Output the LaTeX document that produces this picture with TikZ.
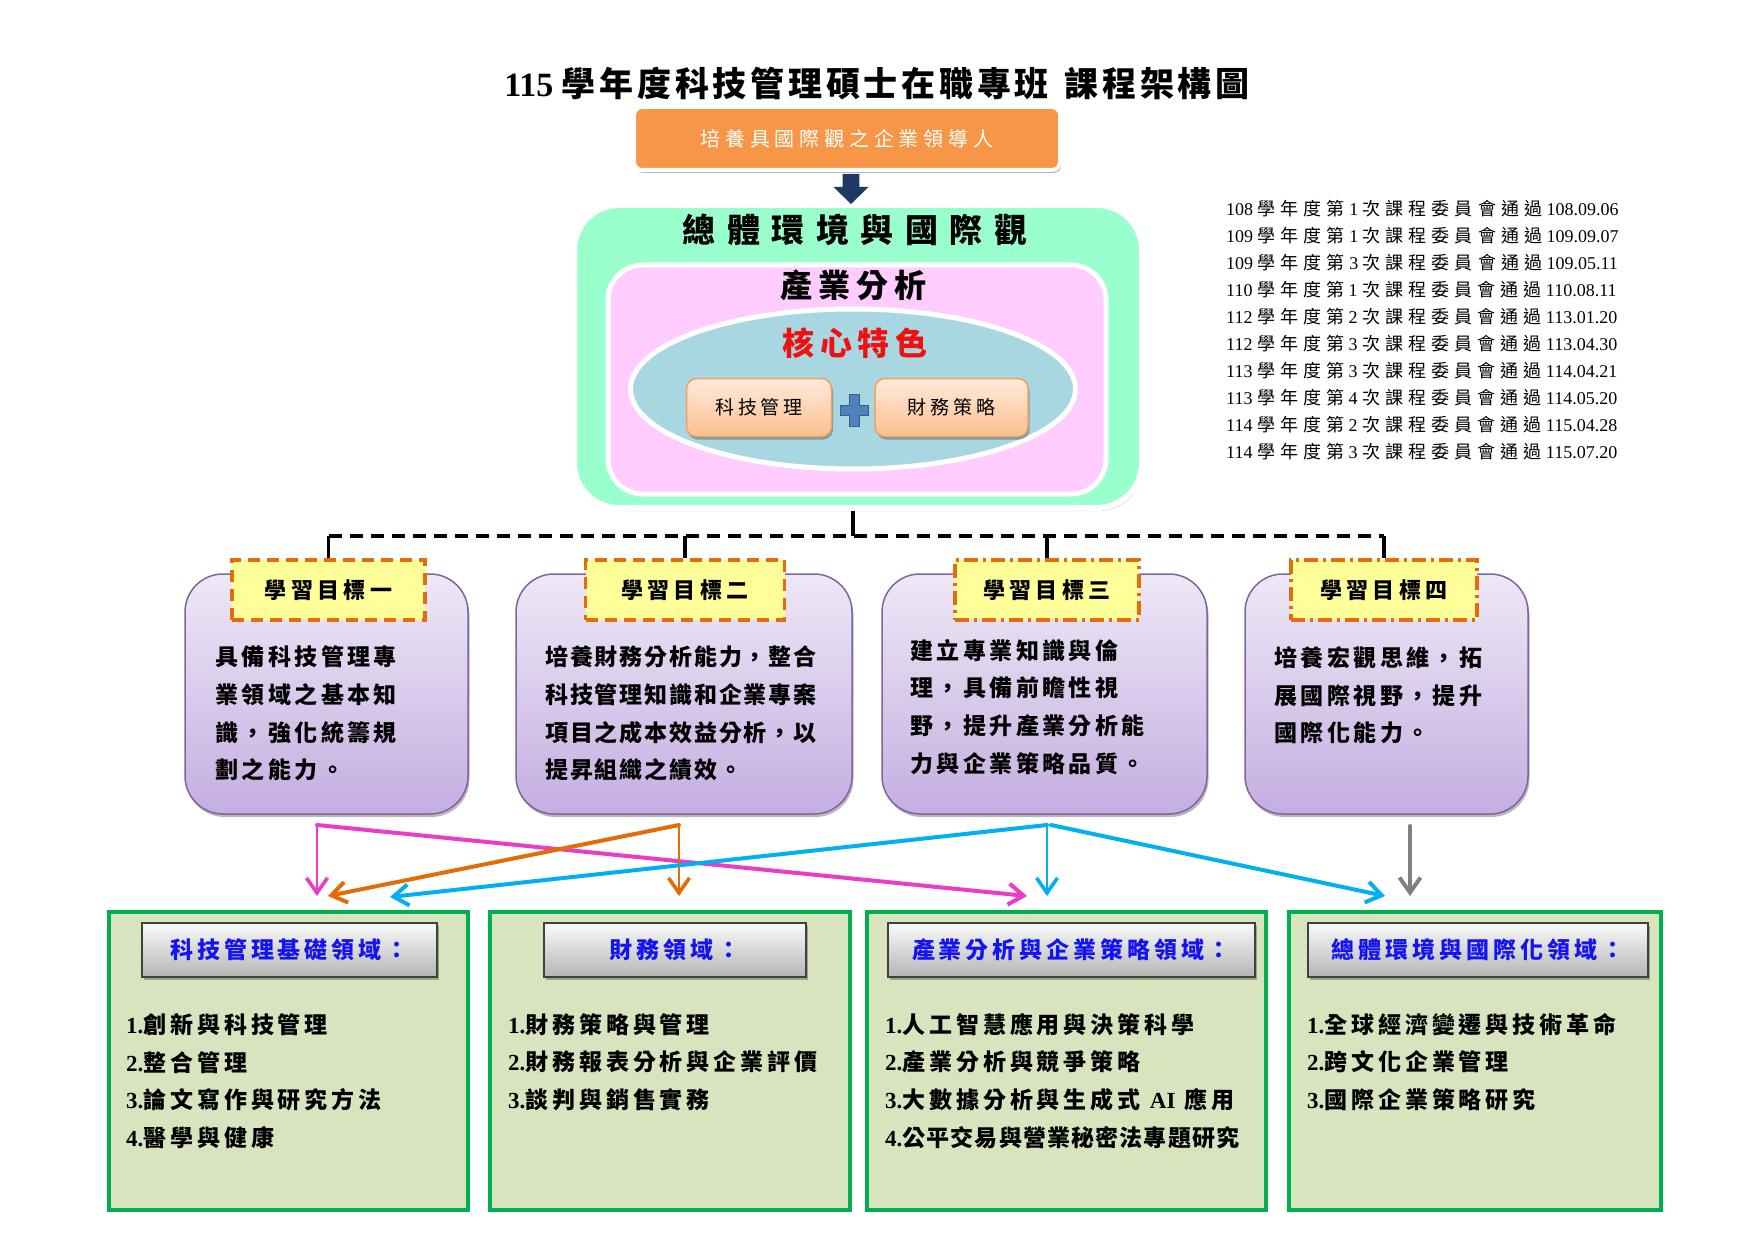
\documentclass[tikz,border=0pt]{standalone}
\usepackage{fontspec}
\setmainfont{Liberation Serif}
\newfontfamily\cjk{Noto Sans CJK TC}
\usetikzlibrary{shadows,arrows.meta,shapes.geometric,calc}
\definecolor{leadorange}{HTML}{F79646}
\definecolor{navy}{HTML}{1F3864}
\definecolor{mint}{HTML}{99FFCC}
\definecolor{pinkbg}{HTML}{FFCCFF}
\definecolor{ellblue}{HTML}{A9D7E1}
\definecolor{peachtop}{HTML}{FFEADB}
\definecolor{peachbot}{HTML}{FAC08F}
\definecolor{peachline}{HTML}{F2A062}
\definecolor{plusblue}{HTML}{4F81BD}
\definecolor{plusline}{HTML}{385D8A}
\definecolor{coretext}{HTML}{EE1111}
\definecolor{purpletop}{HTML}{EEE8F6}
\definecolor{purplebot}{HTML}{C4AEE1}
\definecolor{purpleline}{HTML}{8064A2}
\definecolor{labelfill}{HTML}{FFFF99}
\definecolor{labelline}{HTML}{E46C0A}
\definecolor{domfill}{HTML}{D7E4BD}
\definecolor{domline}{HTML}{00B050}
\definecolor{hdtop}{HTML}{FAFAFA}
\definecolor{hdbot}{HTML}{B5B5B5}
\definecolor{hdline}{HTML}{404040}
\definecolor{hdtext}{HTML}{1414F0}
\definecolor{arrpink}{HTML}{EA3CC8}
\definecolor{arrorange}{HTML}{E36C09}
\definecolor{arrcyan}{HTML}{00B0F0}
\definecolor{arrgray}{HTML}{7F7F7F}
\newcommand\ls[1]{\addfontfeature{LetterSpace=#1}}
\newcommand\fsz[2]{\fontsize{#1}{#2}\selectfont}
\newcommand\nb[1]{{\rmfamily\bfseries #1}}
\newcommand\rv[3]{#1 {\cjk\ls{28}學年度第} #2 {\cjk\ls{28}次課程委員會通過} #3}
\begin{document}
\begin{tikzpicture}[x=1pt,y=-1pt,
  shadowed/.style={drop shadow={shadow xshift=1.5pt,shadow yshift=-3pt,opacity=0.28,fill=black}},
  leadbox/.style={rectangle,rounded corners=8,fill=leadorange,draw=white,line width=4,shadowed,
    minimum width=426,minimum height=63,inner sep=0,text=white,font=\cjk\fsz{20}{24}\ls{24}},
  envbox/.style={rectangle,rounded corners=45,fill=mint,draw=white,line width=6,shadowed,
    minimum width=568,minimum height=303,inner sep=0},
  indbox/.style={rectangle,rounded corners=35,fill=pinkbg,draw=white,line width=5,
    minimum width=498,minimum height=229,inner sep=0},
  coreell/.style={ellipse,fill=ellblue,draw=white,line width=5,minimum width=445,minimum height=160,inner sep=0},
  peach/.style={rectangle,rounded corners=10,top color=peachtop,bottom color=peachbot,draw=peachline,
    line width=1.5,shadowed,minimum height=58,inner sep=0,font=\cjk\fsz{19}{22}\ls{20}},
  goalbox/.style={rectangle,rounded corners=38,top color=purpletop,bottom color=purplebot,
    draw=purpleline,line width=1.5,shadowed,minimum height=240,inner sep=0},
  goallab/.style={rectangle,fill=labelfill,draw=labelline,line width=3.5,minimum height=60,inner sep=0,
    font=\cjk\bfseries\fsz{22}{26}\ls{20}},
  labdash/.style={dash pattern=on 12pt off 7pt},
  labdashdot/.style={dash pattern=on 14pt off 5pt on 3pt off 5pt},
  goaltext/.style={anchor=west,align=left,inner sep=0,font=\cjk\bfseries\fsz{23}{37.7}\ls{15}},
  dombox/.style={rectangle,fill=domfill,draw=domline,line width=3.5,minimum height=298,inner sep=0},
  hdr/.style={rectangle,top color=hdtop,bottom color=hdbot,draw=hdline,line width=1.5,shadowed,
    minimum height=54,inner sep=0,text=hdtext,font=\cjk\bfseries\fsz{23}{28}\ls{17}},
  itemtext/.style={anchor=west,align=left,inner sep=0,font=\cjk\bfseries\fsz{23}{37.7}\ls{17}},
  dashline/.style={line width=3.5,dash pattern=on 13pt off 8pt},
  tieline/.style={line width=3.5},
  thinarr/.style={-{Straight Barb[length=15pt,width=21pt,line width=3.6pt]},line cap=round,line join=round,line width=2.6},
  thickarr/.style={-{Straight Barb[length=15pt,width=21pt]},line cap=round,line join=round,line width=4},
]
\fill[white] (0,0) rectangle (1755,1241);
\useasboundingbox (0,0) rectangle (1755,1241);

% title
\node[font=\fsz{34}{40}] (title) at (877,84) {\nb{115} {\cjk\bfseries\ls{11}學年度科技管理碩士在職專班\hspace{16pt}課程架構圖}};

% top part
\node[leadbox] (lead) at (847,138.5) {培養具國際觀之企業領導人};
\node[envbox] (env) at (858,356.5) {};
\coordinate (as) at ($(lead.south)+(4,2)$);
\coordinate (at) at ($(env.north)+(-7,2)$);
\fill[navy] ($(as)+(-8.3,0)$) -- ($(as)+(8.3,0)$) -- ($(at)+(8.3,-17)$) -- ($(at)+(17.5,-17)$) -- (at)
  -- ($(at)+(-17.5,-17)$) -- ($(at)+(-8.3,-17)$) -- cycle;
\node[indbox] (ind) at (857,379.5) {};
\node[coreell] (core) at (853,389) {};
\node[font=\cjk\bfseries\fsz{33}{40}\ls{35}] (envt) at (855,229.5) {總體環境與國際觀};
\node[font=\cjk\bfseries\fsz{32}{38}\ls{18}] (indt) at (853.5,285.5) {產業分析};
\node[font=\cjk\bfseries\fsz{32}{38}\ls{18},text=coretext] (coret) at (855,343) {核心特色};
\node[peach,minimum width=145] (tech) at (759,407.5) {科技管理};
\node[peach,minimum width=153] (fin) at (951.5,407.5) {財務策略};
\coordinate (plus) at (854,410);
\filldraw[fill=plusblue,draw=plusline,line width=1,shift={(plus)}]
  (-5,-16) -- (5,-16) -- (5,-5) -- (14,-5) -- (14,5) -- (5,5) -- (5,16) -- (-5,16)
  -- (-5,5) -- (-14,5) -- (-14,-5) -- (-5,-5) -- cycle;

% revisions
\node[anchor=west,align=left,inner sep=0,font=\rmfamily\fsz{18}{27}] (rev) at (1226,330.5)
 {\rv{108}{1}{108.09.06}\\\rv{109}{1}{109.09.07}\\\rv{109}{3}{109.05.11}\\\rv{110}{1}{110.08.11}\\
  \rv{112}{2}{113.01.20}\\\rv{112}{3}{113.04.30}\\\rv{113}{3}{114.04.21}\\\rv{113}{4}{114.05.20}\\
  \rv{114}{2}{115.04.28}\\\rv{114}{3}{115.07.20}};

% goals
\node[goalbox,minimum width=283] (g1) at (326.5,694) {};
\node[goalbox,minimum width=336] (g2) at (684,694) {};
\node[goalbox,minimum width=325] (g3) at (1044.5,694) {};
\node[goalbox,minimum width=283] (g4) at (1386.5,694) {};
\node[goallab,labdash,minimum width=193] (l1) at (328.5,590) {學習目標一};
\node[goallab,labdash,minimum width=199] (l2) at (685,590) {學習目標二};
\node[goallab,labdashdot,minimum width=184] (l3) at (1047,590) {學習目標三};
\node[goallab,labdashdot,minimum width=186] (l4) at (1384,590) {學習目標四};

\coordinate (hub) at (853,536);
\draw[tieline] (hub |- env.south) -- (hub);
\draw[dashline] (l1.north |- hub) -- (l4.north |- hub);
\foreach \l in {l1,l2,l3,l4} \draw[tieline] (\l.north) -- (\l.north |- hub);

\node[goaltext] (g1t) at (215,713.5) {具備科技管理專\\業領域之基本知\\識，強化統籌規\\劃之能力。};
\node[goaltext,font=\cjk\bfseries\fsz{23}{37.7}\ls{8}] (g2t) at (545,713.5) {培養財務分析能力，整合\\科技管理知識和企業專案\\項目之成本效益分析，以\\提昇組織之績效。};
\node[goaltext] (g3t) at (910,707) {建立專業知識與倫\\理，具備前瞻性視\\野，提升產業分析能\\力與企業策略品質。};
\node[goaltext] (g4t) at (1274,695.5) {培養宏觀思維，拓\\展國際視野，提升\\國際化能力。};

% domains
\node[dombox,minimum width=359] (d1) at (288.5,1061) {};
\node[dombox,minimum width=360] (d2) at (670,1061) {};
\node[dombox,minimum width=399] (d3) at (1066.5,1061) {};
\node[dombox,minimum width=372] (d4) at (1475,1061) {};
\node[hdr,minimum width=295] (h1) at (289.5,950) {科技管理基礎領域：};
\node[hdr,minimum width=262] (h2) at (675,950) {財務領域：};
\node[hdr,minimum width=367] (h3) at (1071.5,950) {產業分析與企業策略領域：};
\node[hdr,minimum width=340] (h4) at (1478,950) {總體環境與國際化領域：};

\node[itemtext] (d1t) at (126,1081) {\nb{1.}創新與科技管理\\\nb{2.}整合管理\\\nb{3.}論文寫作與研究方法\\\nb{4.}醫學與健康};
\node[itemtext] (d2t) at (508,1062) {\nb{1.}財務策略與管理\\\nb{2.}財務報表分析與企業評價\\\nb{3.}談判與銷售實務};
\node[itemtext] (d3t) at (885,1081) {\nb{1.}人工智慧應用與決策科學\\\nb{2.}產業分析與競爭策略\\\nb{3.}大數據分析與生成式 \nb{AI} 應用\\{\ls{5}\nb{4.}公平交易與營業秘密法專題研究}};
\node[itemtext] (d4t) at (1307,1062) {\nb{1.}全球經濟變遷與技術革命\\\nb{2.}跨文化企業管理\\\nb{3.}國際企業策略研究};

% arrows
\coordinate (pk) at (317,825);
\coordinate (or) at (679,825);
\coordinate (cy) at (1047,825);
\coordinate (gy) at (1410,826);
\coordinate (pk1) at (317,896);
\coordinate (pk2) at (1027,896);
\coordinate (or1) at (679,896);
\coordinate (or2) at (328,896);
\coordinate (cy1) at (1047,896);
\coordinate (cy2) at (390,897);
\coordinate (cy3) at (1385,896);
\coordinate (gy1) at (1410,896);
\draw[thinarr,arrpink] (pk) -- (pk1);
\draw[thickarr,arrpink] (pk) -- (pk2);
\draw[thinarr,arrorange] (or) -- (or1);
\draw[thickarr,arrorange] (or) -- (or2);
\draw[thinarr,arrcyan] (cy) -- (cy1);
\draw[thickarr,arrcyan] (cy) -- (cy2);
\draw[thickarr,arrcyan] ($(cy)+(4,0)$) -- (cy3);
\draw[thickarr,arrgray] (gy) -- (gy1);
\end{tikzpicture}
\end{document}
